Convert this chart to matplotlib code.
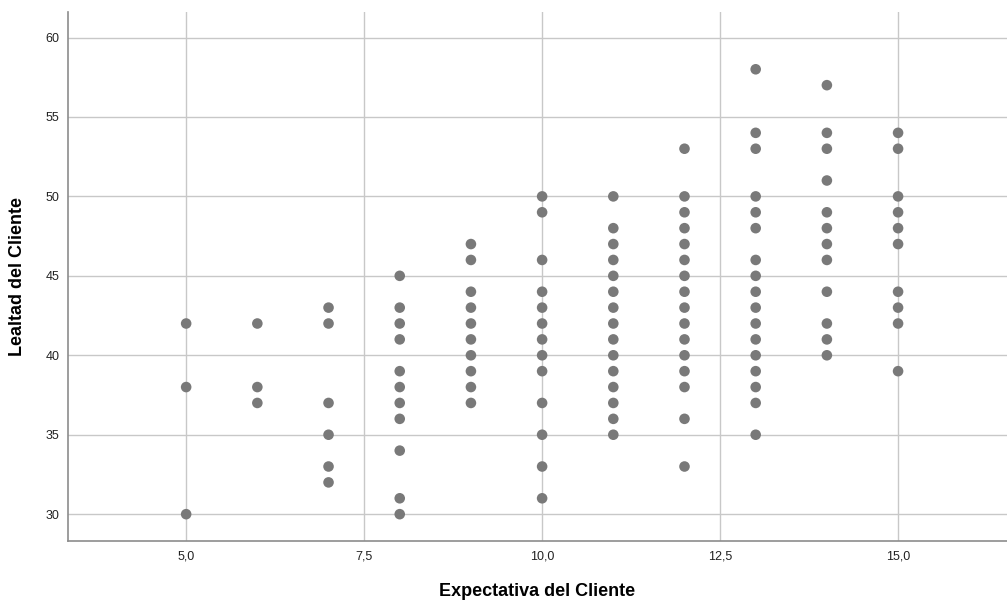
import numpy as np
import matplotlib.pyplot as plt
from matplotlib.ticker import FuncFormatter

# Expectativa (x) vs Lealtad (y), one list of y values per expectativa score
exp_vals = [5, 6, 7, 8, 9, 10, 11, 12, 13, 14, 15]
lealtad = {
    5: [42, 38, 30],
    6: [42, 38, 37],
    7: [43, 42, 37, 35, 33, 32],
    8: [45, 43, 42, 41, 39, 38, 37, 36, 34, 31, 30],
    9: [47, 46, 44, 43, 42, 41, 40, 39, 38, 37],
    10: [50, 49, 46, 44, 43, 42, 41, 40, 39, 37, 35, 33, 31],
    11: [50, 48, 47, 46, 45, 44, 43, 42, 41, 40, 39, 38, 37, 36, 35],
    12: [53, 50, 49, 48, 47, 46, 45, 44, 43, 42, 41, 40, 39, 38, 36, 33],
    13: [58, 54, 53, 50, 49, 48, 46, 45, 44, 43, 42, 41, 40, 39, 38, 37, 35],
    14: [57, 54, 53, 51, 49, 48, 47, 46, 44, 42, 41, 40],
    15: [54, 53, 50, 49, 48, 47, 44, 43, 42, 39],
}
xticks = [5.0, 7.5, 10.0, 12.5, 15.0]
yticks = [30, 35, 40, 45, 50, 55, 60]

x = np.concatenate([[e] * len(lealtad[e]) for e in exp_vals])
y = np.concatenate([lealtad[e] for e in exp_vals])

plt.rcParams['font.family'] = ['Liberation Sans', 'DejaVu Sans']

fig = plt.figure(figsize=(10.07, 6.04), dpi=100)
ax = fig.add_axes([0.0675, 0.104, 0.9325, 0.876])

ax.scatter(x, y, s=58, color='#797979', edgecolors='none', zorder=3)

ax.set_xlim(3.34, 16.53)
ax.set_ylim(28.3, 61.6)
ax.set_xticks(xticks)
ax.set_yticks(yticks)
ax.xaxis.set_major_formatter(FuncFormatter(lambda v, p: f'{v:.1f}'.replace('.', ',')))
ax.grid(True, color='#c8c8c8', linewidth=1.0, zorder=0)
ax.tick_params(length=0, labelsize=9, colors='#222222')
ax.tick_params(axis='x', pad=6.5)
ax.tick_params(axis='y', pad=6)

for s in ['top', 'right']:
    ax.spines[s].set_visible(False)
for s in ['left', 'bottom']:
    ax.spines[s].set_color('#8c8c8c')
    ax.spines[s].set_linewidth(1.2)

ax.set_xlabel('Expectativa del Cliente', fontsize=13, fontweight='bold', labelpad=15)
ax.set_ylabel('Lealtad del Cliente', fontsize=13, fontweight='bold', labelpad=14)

fig.savefig('out.png', dpi=100)
